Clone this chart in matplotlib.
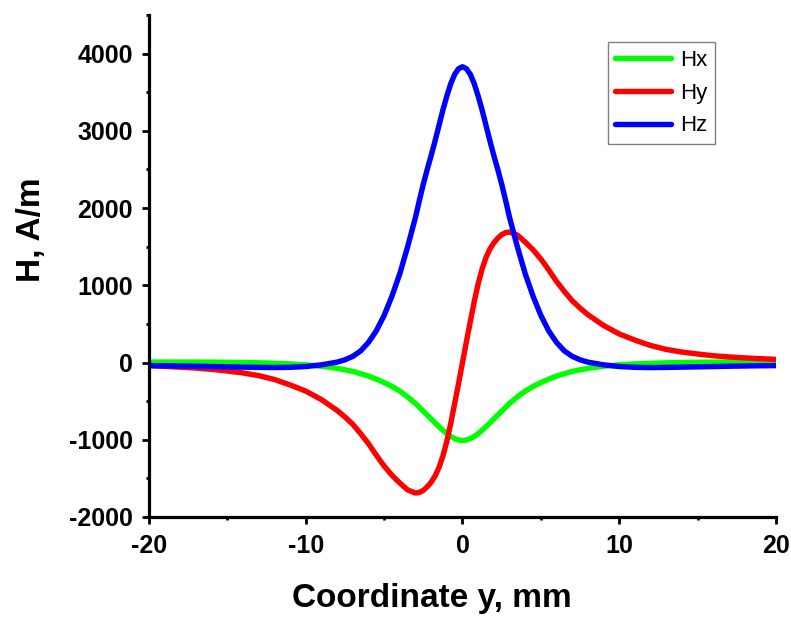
import matplotlib
matplotlib.use("Agg")
import matplotlib.pyplot as plt
from matplotlib.ticker import MultipleLocator

# coordinate y, mm (finer grid in the core, 1 mm in the tails)
y_mm = [-20, -19, -18, -17, -16, -15, -14, -13, -12, -11, -10, -9,
        -8, -7.5, -7, -6.5, -6, -5.5, -5, -4.5, -4, -3.5,
        -3, -2.75, -2.5, -2.25, -2, -1.75, -1.5, -1.25, -1, -0.75, -0.5, -0.25, 0,
        0.25, 0.5, 0.75, 1, 1.25, 1.5, 1.75, 2, 2.25, 2.5, 2.75, 3,
        3.5, 4, 4.5, 5, 5.5, 6, 6.5, 7, 7.5, 8,
        9, 10, 11, 12, 13, 14, 15, 16, 17, 18, 19, 20]

hx = [6, 6, 6, 6, 5, 3, 0, -4, -10, -18, -30, -48,
      -75, -95, -115, -145, -175, -215, -260, -310, -370, -445,
      -530, -580, -630, -680, -730, -781, -830, -877, -920, -957, -985, -1003, -1010,
      -1003, -985, -957, -920, -877, -830, -781, -730, -680, -630, -580, -530,
      -445, -370, -310, -260, -215, -175, -145, -115, -95, -75,
      -48, -30, -18, -10, -4, 0, 3, 5, 6, 6, 6, 6]

hy = [-40, -50, -60, -72, -88, -110, -135, -170, -220, -290, -370, -480,
      -620, -705, -800, -920, -1050, -1200, -1340, -1460, -1560, -1650,
      -1690, -1682, -1655, -1610, -1550, -1470, -1360, -1210, -1020, -790, -530, -270, 0,
      270, 530, 790, 1020, 1210, 1360, 1470, 1550, 1610, 1655, 1682, 1690,
      1650, 1560, 1460, 1340, 1200, 1050, 920, 800, 705, 620,
      480, 370, 290, 220, 170, 135, 110, 88, 72, 60, 50, 40]

hz = [-40, -42, -45, -48, -52, -56, -60, -63, -65, -62, -52, -30,
      5, 35, 80, 150, 260, 410, 610, 860, 1150, 1500,
      1880, 2100, 2310, 2500, 2680, 2870, 3070, 3270, 3450, 3610, 3730, 3805, 3830,
      3805, 3730, 3610, 3450, 3270, 3070, 2870, 2680, 2500, 2310, 2100, 1880,
      1500, 1150, 860, 610, 410, 260, 150, 80, 35, 5,
      -30, -52, -62, -65, -63, -60, -56, -52, -48, -45, -42, -40]

labels = ["Hx", "Hy", "Hz"]
colors = ["#00ff00", "#ff0000", "#0000ff"]

plt.rcParams['font.family'] = ['Liberation Sans', 'DejaVu Sans']
plt.rcParams['axes.unicode_minus'] = False

fig = plt.figure(figsize=(7.91, 6.17), dpi=100)
ax = fig.add_axes([0.1884, 0.1621, 0.7926, 0.8136])

for data, lab, col in zip([hx, hy, hz], labels, colors):
    ax.plot(y_mm, data, color=col, lw=3.9, label=lab,
            solid_capstyle='round', solid_joinstyle='round')

ax.set_xlim(-20, 20)
ax.set_ylim(-2000, 4500)
ax.xaxis.set_major_locator(MultipleLocator(10))
ax.xaxis.set_minor_locator(MultipleLocator(5))
ax.yaxis.set_major_locator(MultipleLocator(1000))
ax.yaxis.set_minor_locator(MultipleLocator(500))

for side in ['top', 'right']:
    ax.spines[side].set_visible(False)
for side in ['left', 'bottom']:
    ax.spines[side].set_linewidth(2.3)

ax.tick_params(which='major', direction='out', length=5, width=2, labelsize=18)
ax.tick_params(which='minor', direction='out', length=2.5, width=2)
ax.tick_params(axis='x', which='major', pad=7)
ax.tick_params(axis='y', which='major', pad=6.5)
for t in ax.get_xticklabels() + ax.get_yticklabels():
    t.set_fontweight('bold')

ax.set_xlabel("Coordinate y, mm", fontsize=24, fontweight='bold')
ax.set_ylabel("H, A/m", fontsize=24, fontweight='bold')
ax.xaxis.set_label_coords(0.451, -0.131)
ax.yaxis.set_label_coords(-0.162, 0.572)

leg = ax.legend(loc='upper right', bbox_to_anchor=(0.9027, 0.946), borderaxespad=0,
                fontsize=16, handlelength=2.5, handletextpad=0.4, labelspacing=0.53,
                borderpad=0.35, fancybox=False, framealpha=1)
leg.get_frame().set_edgecolor('#808080')
leg.get_frame().set_linewidth(1.0)

fig.savefig("out.png", dpi=100)
